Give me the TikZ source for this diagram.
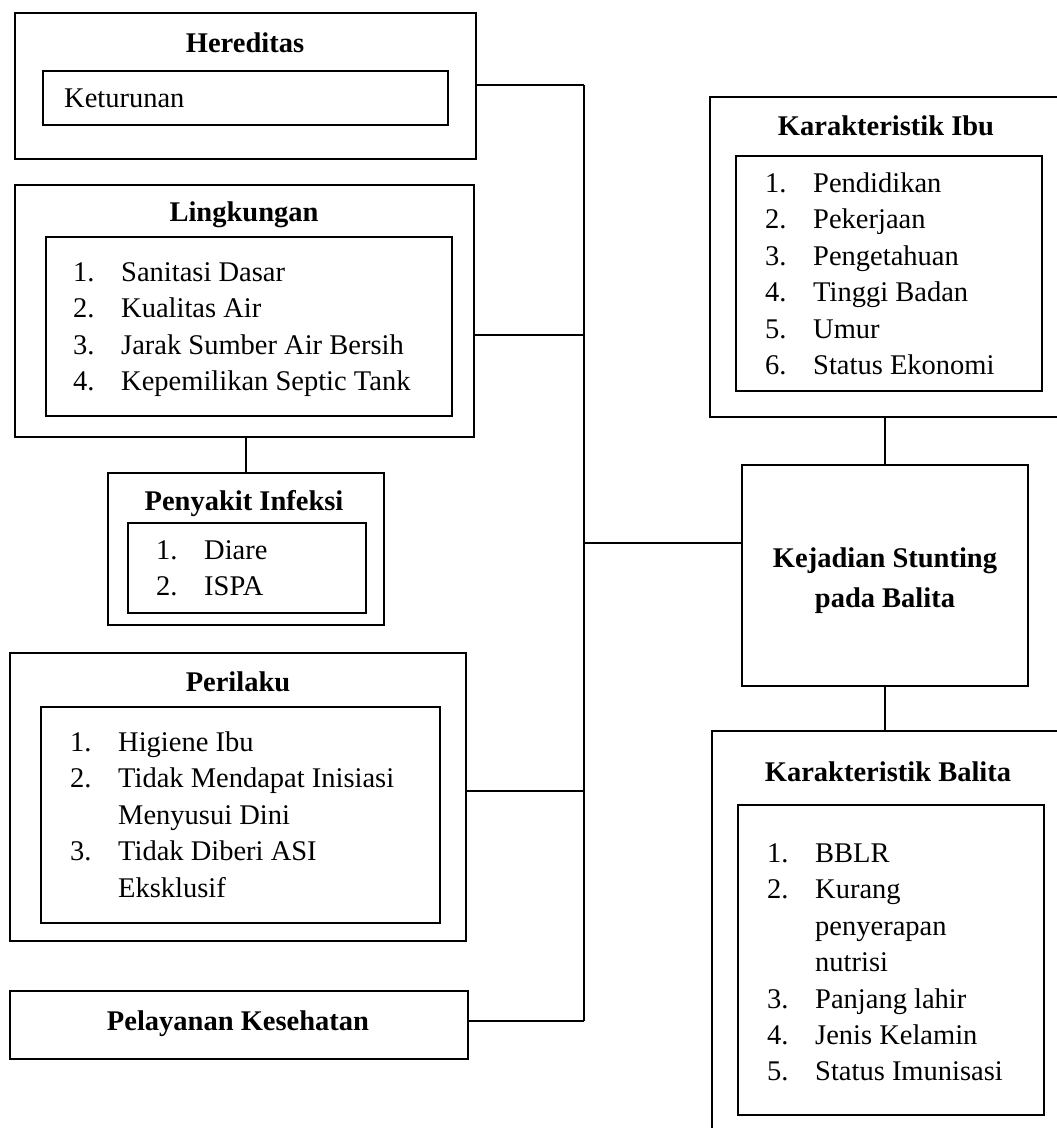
\documentclass[tikz,border=0pt]{standalone}
\usepackage{fontspec}
\setmainfont{Liberation Serif}
\usetikzlibrary{fit}
\newcommand\lnum[1]{\makebox[48pt][l]{#1}}
\newcommand\lcont{\hspace*{48pt}}
\tikzset{
  rect/.style={draw, line width=1.8pt, rectangle, inner sep=0pt, outer sep=0pt},
  conn/.style={line width=1.8pt},
  ttl/.style={anchor=base, inner sep=0pt, font=\fontsize{28.5}{36.4}\selectfont\bfseries},
  lst/.style={anchor=base west, inner sep=0pt, font=\fontsize{28.5}{36.4}\selectfont},
}
\begin{document}
\begin{tikzpicture}[x=1pt,y=-1pt]
\path[use as bounding box] (0,0) rectangle (1057,1128);
\clip (0,0) rectangle (1057,1128);

% Hereditas
\node[rect, fit={(15,13) (476,159)}] (her) {};
\node[rect, fit={(43,71) (448,125)}] (herI) {};
\node[ttl] (herT) at (245,52.5) {Hereditas};
\node[lst] (herL) at (64,107.5) {Keturunan};

% Lingkungan
\node[rect, fit={(15,185) (474,437)}] (lin) {};
\node[rect, fit={(46,237) (452,416)}] (linI) {};
\node[ttl] (linT) at (244,221.5) {Lingkungan};
\node[lst] (linL) at (73,281.5) {\begin{tabular}[t]{@{}l@{}}
\lnum{1.}Sanitasi Dasar\\
\lnum{2.}Kualitas Air\\
\lnum{3.}Jarak Sumber Air Bersih\\
\lnum{4.}Kepemilikan Septic Tank
\end{tabular}};

% Penyakit Infeksi
\node[rect, fit={(108,473) (384,625)}] (pen) {};
\node[rect, fit={(128,523) (366,613)}] (penI) {};
\node[ttl] (penT) at (244,510.5) {Penyakit Infeksi};
\node[lst] (penL) at (156,559.5) {\begin{tabular}[t]{@{}l@{}}
\lnum{1.}Diare\\
\lnum{2.}ISPA
\end{tabular}};

% Perilaku
\node[rect, fit={(10,653) (466,941)}] (per) {};
\node[rect, fit={(41,707) (440,923)}] (perI) {};
\node[ttl] (perT) at (238,691.5) {Perilaku};
\node[lst] (perL) at (70,751.5) {\begin{tabular}[t]{@{}l@{}}
\lnum{1.}Higiene Ibu\\
\lnum{2.}Tidak Mendapat Inisiasi\\
\lcont Menyusui Dini\\
\lnum{3.}Tidak Diberi ASI\\
\lcont Eksklusif
\end{tabular}};

% Pelayanan Kesehatan
\node[rect, fit={(10,991) (468,1059)}] (pel) {};
\node[ttl] (pelT) at (238,1030) {Pelayanan Kesehatan};

% Karakteristik Ibu
\node[rect, fit={(710,97) (1075,417)}] (ibu) {};
\node[rect, fit={(736,156) (1042,391)}] (ibuI) {};
\node[ttl] (ibuT) at (886,135.5) {Karakteristik Ibu};
\node[lst] (ibuL) at (765,192.5) {\begin{tabular}[t]{@{}l@{}}
\lnum{1.}Pendidikan\\
\lnum{2.}Pekerjaan\\
\lnum{3.}Pengetahuan\\
\lnum{4.}Tinggi Badan\\
\lnum{5.}Umur\\
\lnum{6.}Status Ekonomi
\end{tabular}};

% Kejadian Stunting
\node[rect, fit={(742,465) (1028,686)}] (kej) {};
\node[ttl, font=\fontsize{28.5}{40}\selectfont\bfseries] (kejT) at (885,567.5) {\begin{tabular}[t]{@{}c@{}}
Kejadian Stunting\\
pada Balita
\end{tabular}};

% Karakteristik Balita
\node[rect, fit={(712,731) (1075,1145)}] (bal) {};
\node[rect, fit={(738,805) (1044,1115)}] (balI) {};
\node[ttl] (balT) at (888,781.5) {Karakteristik Balita};
\node[lst] (balL) at (767,862.5) {\begin{tabular}[t]{@{}l@{}}
\lnum{1.}BBLR\\
\lnum{2.}Kurang\\
\lcont penyerapan\\
\lcont nutrisi\\
\lnum{3.}Panjang lahir\\
\lnum{4.}Jenis Kelamin\\
\lnum{5.}Status Imunisasi
\end{tabular}};

% bus coordinates
\coordinate (b1) at (584,85);
\coordinate (b2) at (584,335);
\coordinate (b3) at (584,543);
\coordinate (b4) at (584,791);
\coordinate (b5) at (584,1021);

% connectors
\draw[conn] (b1) -- (b5);
\draw[conn] (b1 -| her.east) -- (b1);
\draw[conn] (b2 -| lin.east) -- (b2);
\draw[conn] (b4 -| per.east) -- (b4);
\draw[conn] (b5 -| pel.east) -- (b5);
\draw[conn] (b3) -- (b3 -| kej.west);
\draw[conn] (lin.south -| pen.north) -- (pen.north);
\draw[conn] (kej.north) -- (kej.north |- ibu.south);
\draw[conn] (kej.south) -- (kej.south |- bal.north);
\end{tikzpicture}
\end{document}
